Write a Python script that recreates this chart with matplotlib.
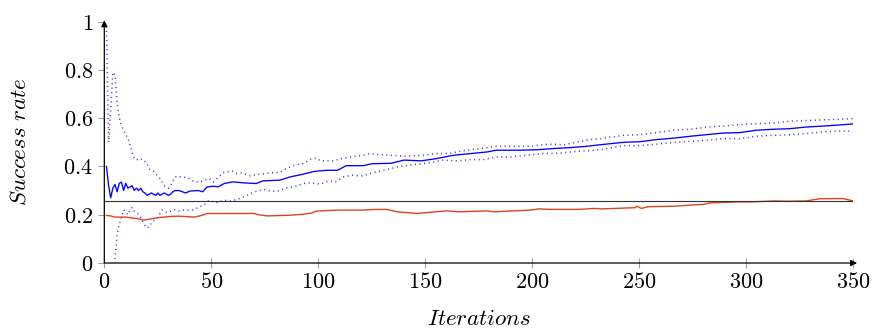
import matplotlib
matplotlib.use("Agg")
import matplotlib.pyplot as plt
from matplotlib.ticker import FixedLocator, FixedFormatter

plt.rcParams['mathtext.fontset'] = 'cm'

# ---- data ----
mean_x = [1, 2, 3, 4, 5, 6, 7, 8, 9, 10, 11, 12, 13, 14, 15, 16, 17, 18, 19, 20,
          21, 22, 23, 24, 25, 26, 27, 28, 29, 30, 31, 32, 33, 34, 35, 38, 40, 44,
          46, 48, 51, 53, 56, 60, 65, 71, 74, 82, 87, 91, 98, 104, 109, 113, 121,
          125, 129, 134, 140, 148, 155, 163, 171, 179, 183, 194, 202, 210, 218,
          225, 232, 243, 250, 258, 266, 274, 282, 289, 297, 305, 313, 320, 328,
          336, 344, 350]
mean_y = [0.40, 0.32, 0.27, 0.31, 0.325, 0.295, 0.33, 0.335, 0.30, 0.33, 0.31,
          0.315, 0.32, 0.30, 0.31, 0.30, 0.31, 0.295, 0.29, 0.28, 0.285, 0.29,
          0.285, 0.28, 0.29, 0.28, 0.285, 0.29, 0.285, 0.28, 0.285, 0.295, 0.30,
          0.30, 0.30, 0.29, 0.298, 0.30, 0.295, 0.315, 0.318, 0.315, 0.329, 0.336,
          0.332, 0.329, 0.34, 0.343, 0.357, 0.364, 0.379, 0.384, 0.384, 0.403,
          0.403, 0.411, 0.412, 0.413, 0.426, 0.423, 0.432, 0.446, 0.453, 0.46,
          0.467, 0.467, 0.469, 0.474, 0.478, 0.483, 0.49, 0.50, 0.502, 0.511,
          0.517, 0.525, 0.532, 0.538, 0.54, 0.55, 0.554, 0.556, 0.563, 0.567,
          0.572, 0.576]

upper_x = [1, 2, 3, 4, 5, 6, 7, 8, 9, 10, 11, 12, 13, 14, 15, 16, 17, 18, 19, 20,
           21, 22, 23, 24, 25, 26, 27, 28, 29, 30, 31, 32, 33, 34, 35, 39, 42, 45,
           49, 51, 56, 60, 62, 64, 68, 73, 78, 82, 85, 89, 93, 96, 99, 101, 107,
           112, 116, 120, 124, 126, 134, 140, 148, 155, 162, 169, 176, 183, 191,
           199, 207, 215, 221, 227, 232, 235, 243, 250, 258, 266, 274, 282, 289,
           297, 305, 313, 320, 328, 336, 344, 350]
upper_y = [0.98, 0.50, 0.64, 0.79, 0.78, 0.66, 0.60, 0.57, 0.55, 0.53, 0.52, 0.49,
           0.46, 0.43, 0.43, 0.425, 0.43, 0.43, 0.42, 0.41, 0.39, 0.385, 0.38,
           0.37, 0.36, 0.35, 0.335, 0.32, 0.315, 0.31, 0.32, 0.34, 0.355, 0.36,
           0.357, 0.354, 0.336, 0.336, 0.35, 0.336, 0.377, 0.38, 0.37, 0.373,
           0.361, 0.368, 0.373, 0.375, 0.391, 0.405, 0.412, 0.428, 0.435, 0.423,
           0.423, 0.435, 0.44, 0.445, 0.453, 0.45, 0.446, 0.442, 0.446, 0.453,
           0.455, 0.467, 0.474, 0.483, 0.483, 0.483, 0.492, 0.49, 0.501, 0.511,
           0.515, 0.519, 0.529, 0.531, 0.54, 0.55, 0.554, 0.563, 0.567, 0.573,
           0.577, 0.58, 0.587, 0.59, 0.593, 0.595, 0.598]

lower_x = [1, 2, 3, 4, 5, 6, 7, 8, 9, 10, 11, 12, 13, 14, 15, 16, 17, 18, 19, 20,
           21, 22, 23, 24, 25, 26, 27, 28, 29, 30, 31, 32, 33, 34, 35, 37, 41, 44,
           47, 49, 52, 56, 59, 62, 66, 69, 72, 75, 78, 82, 85, 89, 93, 96, 101,
           105, 108, 112, 116, 120, 124, 132, 138, 146, 152, 158, 165, 171, 177,
           183, 190, 197, 205, 213, 221, 230, 235, 243, 250, 258, 266, 274, 282,
           289, 297, 305, 313, 320, 328, 336, 344, 350]
lower_y = [-0.2, -0.1, -0.2, -0.1, 0.02, 0.12, 0.16, 0.19, 0.22, 0.21, 0.20, 0.22,
           0.23, 0.215, 0.21, 0.20, 0.19, 0.17, 0.155, 0.145, 0.15, 0.165, 0.175,
           0.18, 0.19, 0.205, 0.22, 0.215, 0.21, 0.21, 0.215, 0.22, 0.22, 0.215,
           0.215, 0.219, 0.219, 0.23, 0.244, 0.26, 0.25, 0.26, 0.257, 0.263,
           0.277, 0.29, 0.30, 0.304, 0.296, 0.30, 0.311, 0.316, 0.329, 0.332,
           0.327, 0.34, 0.336, 0.357, 0.364, 0.36, 0.37, 0.387, 0.40, 0.409,
           0.415, 0.426, 0.423, 0.428, 0.428, 0.439, 0.439, 0.446, 0.453, 0.455,
           0.463, 0.467, 0.474, 0.486, 0.486, 0.492, 0.499, 0.504, 0.508, 0.515,
           0.515, 0.525, 0.529, 0.531, 0.536, 0.543, 0.547, 0.545]

red_x = [1, 3, 5, 8, 10, 12, 14, 16, 18, 20, 22, 25, 28, 31, 35, 42, 45, 48, 56,
         70, 72, 76, 87, 93, 97, 99, 109, 120, 127, 132, 137, 146, 160, 166, 179,
         182, 199, 203, 208, 222, 229, 232, 248, 249, 251, 254, 266, 274, 280,
         283, 296, 302, 313, 320, 328, 334, 345, 350]
red_y = [0.197, 0.195, 0.19, 0.19, 0.19, 0.188, 0.185, 0.183, 0.178, 0.18, 0.183,
         0.188, 0.19, 0.193, 0.194, 0.19, 0.196, 0.205, 0.205, 0.205, 0.20,
         0.195, 0.198, 0.202, 0.207, 0.215, 0.219, 0.219, 0.222, 0.222, 0.212,
         0.205, 0.216, 0.212, 0.216, 0.212, 0.219, 0.224, 0.222, 0.222, 0.226,
         0.224, 0.229, 0.235, 0.226, 0.233, 0.235, 0.24, 0.243, 0.249, 0.253,
         0.253, 0.257, 0.256, 0.257, 0.266, 0.267, 0.257]

baseline_value = 0.258
baseline_x = [0, 350]

x_ticks = [0, 50, 100, 150, 200, 250, 300, 350]
x_ticklabels = ['0', '50', '100', '150', '200', '250', '300', '350']
y_ticks = [0, 0.2, 0.4, 0.6, 0.8, 1.0]
y_ticklabels = ['0', '0.2', '0.4', '0.6', '0.8', '1']

# ---- figure ----
fig = plt.figure(figsize=(8.81, 3.35), dpi=100)
ax = fig.add_axes([0.1184, 0.2149, 0.8502, 0.7209])

blue = '#0000ff'
red = '#d9461c'

ax.plot(upper_x, upper_y, color=blue, lw=1.1, dashes=(0.7, 2.3), alpha=0.8)
ax.plot(lower_x, lower_y, color=blue, lw=1.1, dashes=(0.7, 2.3), alpha=0.8)
ax.plot(mean_x, mean_y, color=blue, lw=0.95)
ax.plot(red_x, red_y, color=red, lw=1.0)
ax.plot(baseline_x, [baseline_value] * len(baseline_x), color='#333333', lw=0.8)

ax.set_xlim(0, 350)
ax.set_ylim(0, 1)

for s in ['top', 'right', 'left', 'bottom']:
    ax.spines[s].set_visible(False)

# axis lines with arrow heads
ax.annotate('', xy=(1.005, 0), xytext=(0, 0), xycoords='axes fraction',
            textcoords='axes fraction',
            arrowprops=dict(arrowstyle='-|>', color='black', lw=0.9,
                            mutation_scale=9, shrinkA=0, shrinkB=0))
ax.annotate('', xy=(0, 1.005), xytext=(0, 0), xycoords='axes fraction',
            textcoords='axes fraction',
            arrowprops=dict(arrowstyle='-|>', color='black', lw=0.9,
                            mutation_scale=9, shrinkA=0, shrinkB=0))

ax.xaxis.set_major_locator(FixedLocator(x_ticks))
ax.xaxis.set_major_formatter(FixedFormatter(['$%s$' % t for t in x_ticklabels]))
ax.yaxis.set_major_locator(FixedLocator(y_ticks))
ax.yaxis.set_major_formatter(FixedFormatter(['$%s$' % t for t in y_ticklabels]))

ax.tick_params(axis='x', direction='inout', length=7, width=0.8, color='#a0a0a0',
               labelsize=16, pad=3)
ax.tick_params(axis='y', direction='out', length=4, width=0.8, color='#a0a0a0',
               labelsize=16, pad=4)

ax.set_xlabel(r'$Iterations$', fontsize=16.5, labelpad=11)
ax.set_ylabel(r'$Success\ rate$', fontsize=16.5, labelpad=24)

fig.savefig('out.png', dpi=100)
